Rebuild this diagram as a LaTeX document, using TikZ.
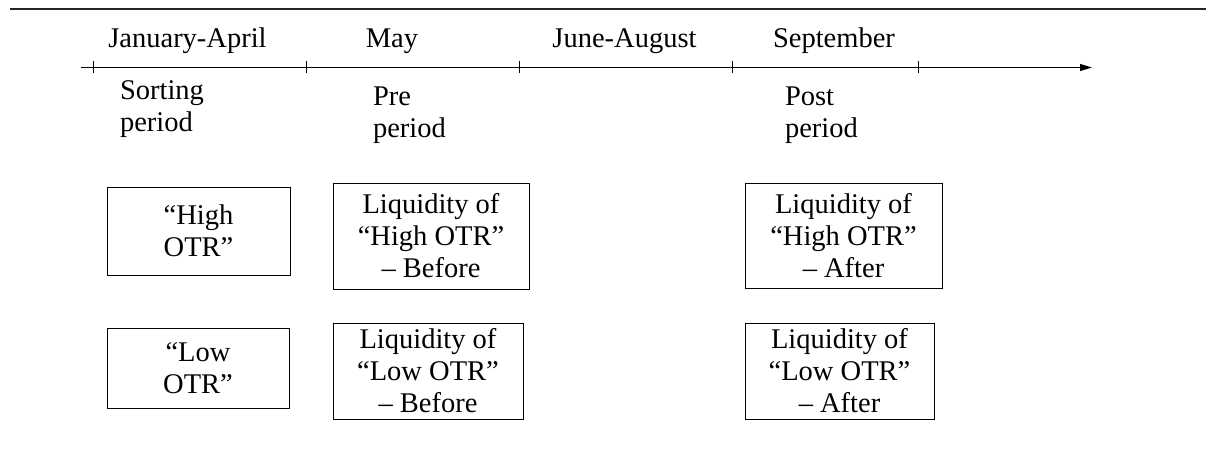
\documentclass[tikz,border=0pt]{standalone}
\usepackage{fontspec}
\setmainfont{Liberation Serif}
\usetikzlibrary{arrows.meta}
\begin{document}
\begin{tikzpicture}[x=1pt,y=-1pt,
  lbl/.style={font=\fontsize{28.5}{32}\selectfont, inner sep=0pt, outer sep=0pt},
  sub/.style={lbl, align=left, anchor=base west},
  box/.style={draw, line width=0.9pt, font=\fontsize{28.5}{32}\selectfont, align=center, inner sep=0pt},
  tickmark/.style={line width=0.9pt},
  axis/.style={line width=1pt, -{Triangle[length=12pt,width=7pt]}},
]
\useasboundingbox (0,0) rectangle (1206,470);
% top rule
\coordinate (r1) at (10,9);
\coordinate (r2) at (1206,9);
\draw[line width=1.6pt, black!85] (r1) -- (r2);

% axis
\coordinate (a0) at (80.5,67.5);
\coordinate (a1) at (1092,67.5);
\draw[axis] (a0) -- (a1);
\foreach \x/\n in {93/t1,306/t2,519/t3,732/t4,918/t5}{
  \coordinate (\n u) at (\x,61.5);
  \coordinate (\n d) at (\x,73.5);
  \draw[tickmark] (\n u) -- (\n d);
}

% period labels
\node[lbl, anchor=base] (jan) at (187.5,48) {January-April};
\node[lbl, anchor=base] (may) at (392,48) {May};
\node[lbl, anchor=base] (jun) at (624.5,48) {June-August};
\node[lbl, anchor=base] (sep) at (834,48) {September};

% (base anchor = baseline of the last line)
\node[sub] (sort) at (120,132) {Sorting\\period};
\node[sub] (pre) at (373,138) {Pre\\period};
\node[sub] (post) at (785,138) {Post\\period};

% boxes
\node[box, minimum width=183pt, minimum height=88pt] (hs) at (198.5,231) {“High\\OTR”};
\node[box, minimum width=196pt, minimum height=106pt] (hb) at (431,236) {Liquidity of\\“High OTR”\\– Before};
\node[box, minimum width=197pt, minimum height=105pt] (ha) at (843.5,235.5) {Liquidity of\\“High OTR”\\– After};

\node[box, minimum width=182pt, minimum height=80pt] (ls) at (198,368) {“Low\\OTR”};
\node[box, minimum width=190pt, minimum height=96pt] (lb) at (428,371) {Liquidity of\\“Low OTR”\\– Before};
\node[box, minimum width=189pt, minimum height=96pt] (la) at (839.5,371) {Liquidity of\\“Low OTR”\\– After};
\end{tikzpicture}
\end{document}
